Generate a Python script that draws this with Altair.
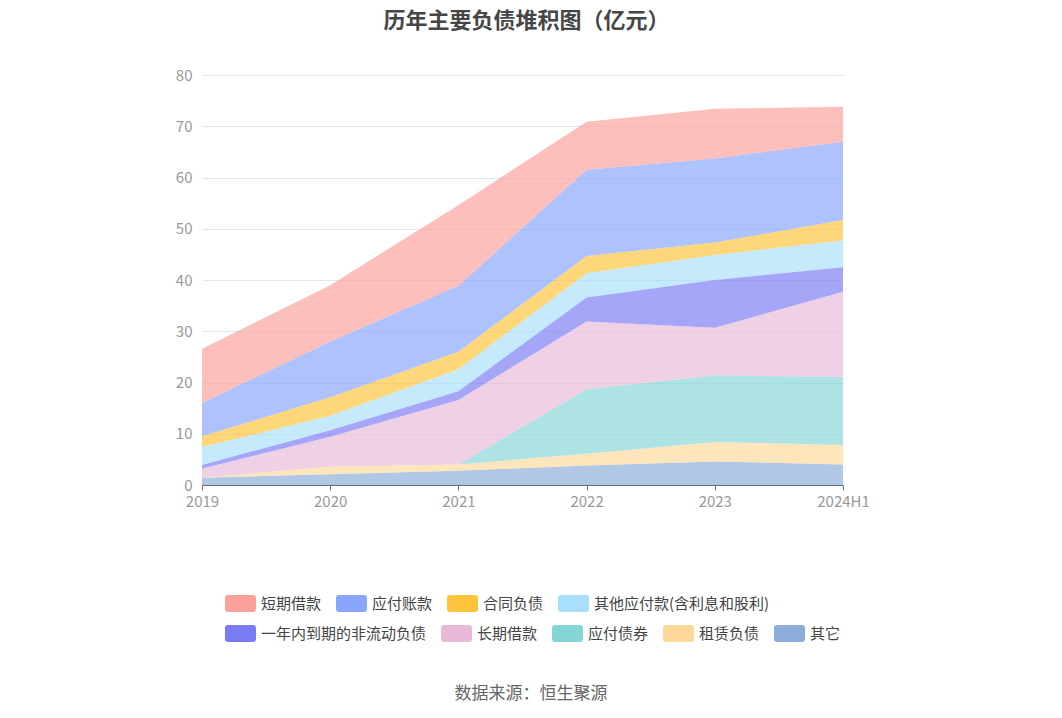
import altair as alt
import pandas as pd

years = ["2019", "2020", "2021", "2022", "2023", "2024H1"]

# series values (亿元), bottom of stack first
qita = [1.4, 2.1, 2.8, 3.8, 4.6, 4.0]            # 其它
zulin = [0.0, 1.5, 1.2, 2.3, 3.8, 3.8]           # 租赁负债
yingfu_zhaiquan = [0.0, 0.0, 0.0, 12.6, 13.0, 13.3]  # 应付债券
changqi = [1.8, 5.8, 12.6, 13.2, 9.3, 16.6]      # 长期借款
yinian = [0.7, 1.3, 1.7, 4.7, 9.3, 4.8]          # 一年内到期的非流动负债
qita_yingfu = [3.5, 2.8, 4.3, 4.7, 4.9, 5.2]     # 其他应付款(含利息和股利)
hetong = [2.1, 3.6, 3.4, 3.4, 2.4, 4.0]          # 合同负债
yingfu_zhangkuan = [6.5, 10.9, 12.9, 16.8, 16.4, 15.3]  # 应付账款
duanqi = [10.6, 11.0, 15.7, 9.4, 9.7, 6.8]       # 短期借款

names_bottom_up = ["其它", "租赁负债", "应付债券", "长期借款", "一年内到期的非流动负债",
                   "其他应付款(含利息和股利)", "合同负债", "应付账款", "短期借款"]
values_bottom_up = [qita, zulin, yingfu_zhaiquan, changqi, yinian,
                    qita_yingfu, hetong, yingfu_zhangkuan, duanqi]

legend1 = ["短期借款", "应付账款", "合同负债", "其他应付款(含利息和股利)"]
colors1 = ["#fba19b", "#87a6fc", "#fec43c", "#a8e0fb"]
legend2 = ["一年内到期的非流动负债", "长期借款", "应付债券", "租赁负债", "其它"]
colors2 = ["#7a7cf5", "#e8b9d9", "#86d5d6", "#fdd89b", "#8cacda"]

title_text = "历年主要负债堆积图（亿元）"
source_text = "数据来源：恒生聚源"

rows = []
for i, (n, vals) in enumerate(zip(names_bottom_up, values_bottom_up)):
    for y, v in zip(years, vals):
        rows.append({"year": y, "series": n, "value": v, "order": i})
df = pd.DataFrame(rows)

FONT = "Noto Sans CJK SC"
sym = ("M-0.65,-1 L2.297,-1 Q2.647,-1 2.647,-0.65 L2.647,0.65 Q2.647,1 2.297,1 "
       "L-0.65,1 Q-1,1 -1,0.65 L-1,-0.65 Q-1,-1 -0.65,-1 Z")


def legend_for(ly):
    return alt.Legend(
        orient="none", legendX=23, legendY=ly, direction="horizontal", title=None,
        symbolType=sym, symbolSize=289, symbolOpacity=1, symbolStrokeWidth=0,
        labelFont=FONT, labelFontSize=15, labelColor="#444444", labelOffset=19,
        columnPadding=14, labelLimit=400, padding=0,
    )


x_enc = alt.X("year:O", sort=years, scale=alt.Scale(padding=0),
              axis=alt.Axis(title=None, labelAngle=0, labelFont=FONT, labelFontSize=15,
                            labelColor="#999999", domainColor="#6e7079", tickColor="#6e7079",
                            tickSize=5, labelPadding=4, grid=False))
y_enc = alt.Y("y0:Q", scale=alt.Scale(domain=[0, 80]),
              axis=alt.Axis(title=None, values=[0, 10, 20, 30, 40, 50, 60, 70, 80],
                            labelFont=FONT, labelFontSize=15, labelColor="#999999",
                            domain=False, ticks=False, gridColor="#e0e6f1",
                            labelPadding=10))

base = alt.Chart(df).transform_stack(
    stack="value", groupby=["year"], as_=["y0", "y1"],
    sort=[alt.SortField("order", order="ascending")]
)

layer1 = base.transform_filter(alt.FieldOneOfPredicate(field="series", oneOf=legend1)).mark_area(
    opacity=0.68, interpolate="linear"
).encode(
    x=x_enc, y=y_enc, y2="y1:Q",
    color=alt.Color("series:N", scale=alt.Scale(domain=legend1, range=colors1),
                    legend=legend_for(520)),
)

layer2 = base.transform_filter(alt.FieldOneOfPredicate(field="series", oneOf=legend2)).mark_area(
    opacity=0.68, interpolate="linear"
).encode(
    x=x_enc, y=y_enc, y2="y1:Q",
    fill=alt.Fill("series:N", scale=alt.Scale(domain=legend2, range=colors2),
                  legend=legend_for(550)),
)

src = alt.Chart(pd.DataFrame({"t": [source_text]})).mark_text(
    font=FONT, fontSize=17, color="#666666", align="center", baseline="middle"
).encode(text="t:N", x=alt.value(329), y=alt.value(619))

chart = alt.layer(layer1, layer2, src).resolve_scale(
    color="independent", fill="independent"
).properties(
    width=641, height=410,
    title=alt.TitleParams(title_text, font=FONT, fontSize=22, fontWeight="bold",
                          color="#464646", anchor="middle", offset=35, dx=4),
    autosize=alt.AutoSizeParams(type="none"),
    padding={"left": 194, "top": 67, "right": 200, "bottom": 220},
    background="white",
).configure_view(stroke=None)

chart.save("out.html", embed_options={"renderer": "svg", "actions": False})
